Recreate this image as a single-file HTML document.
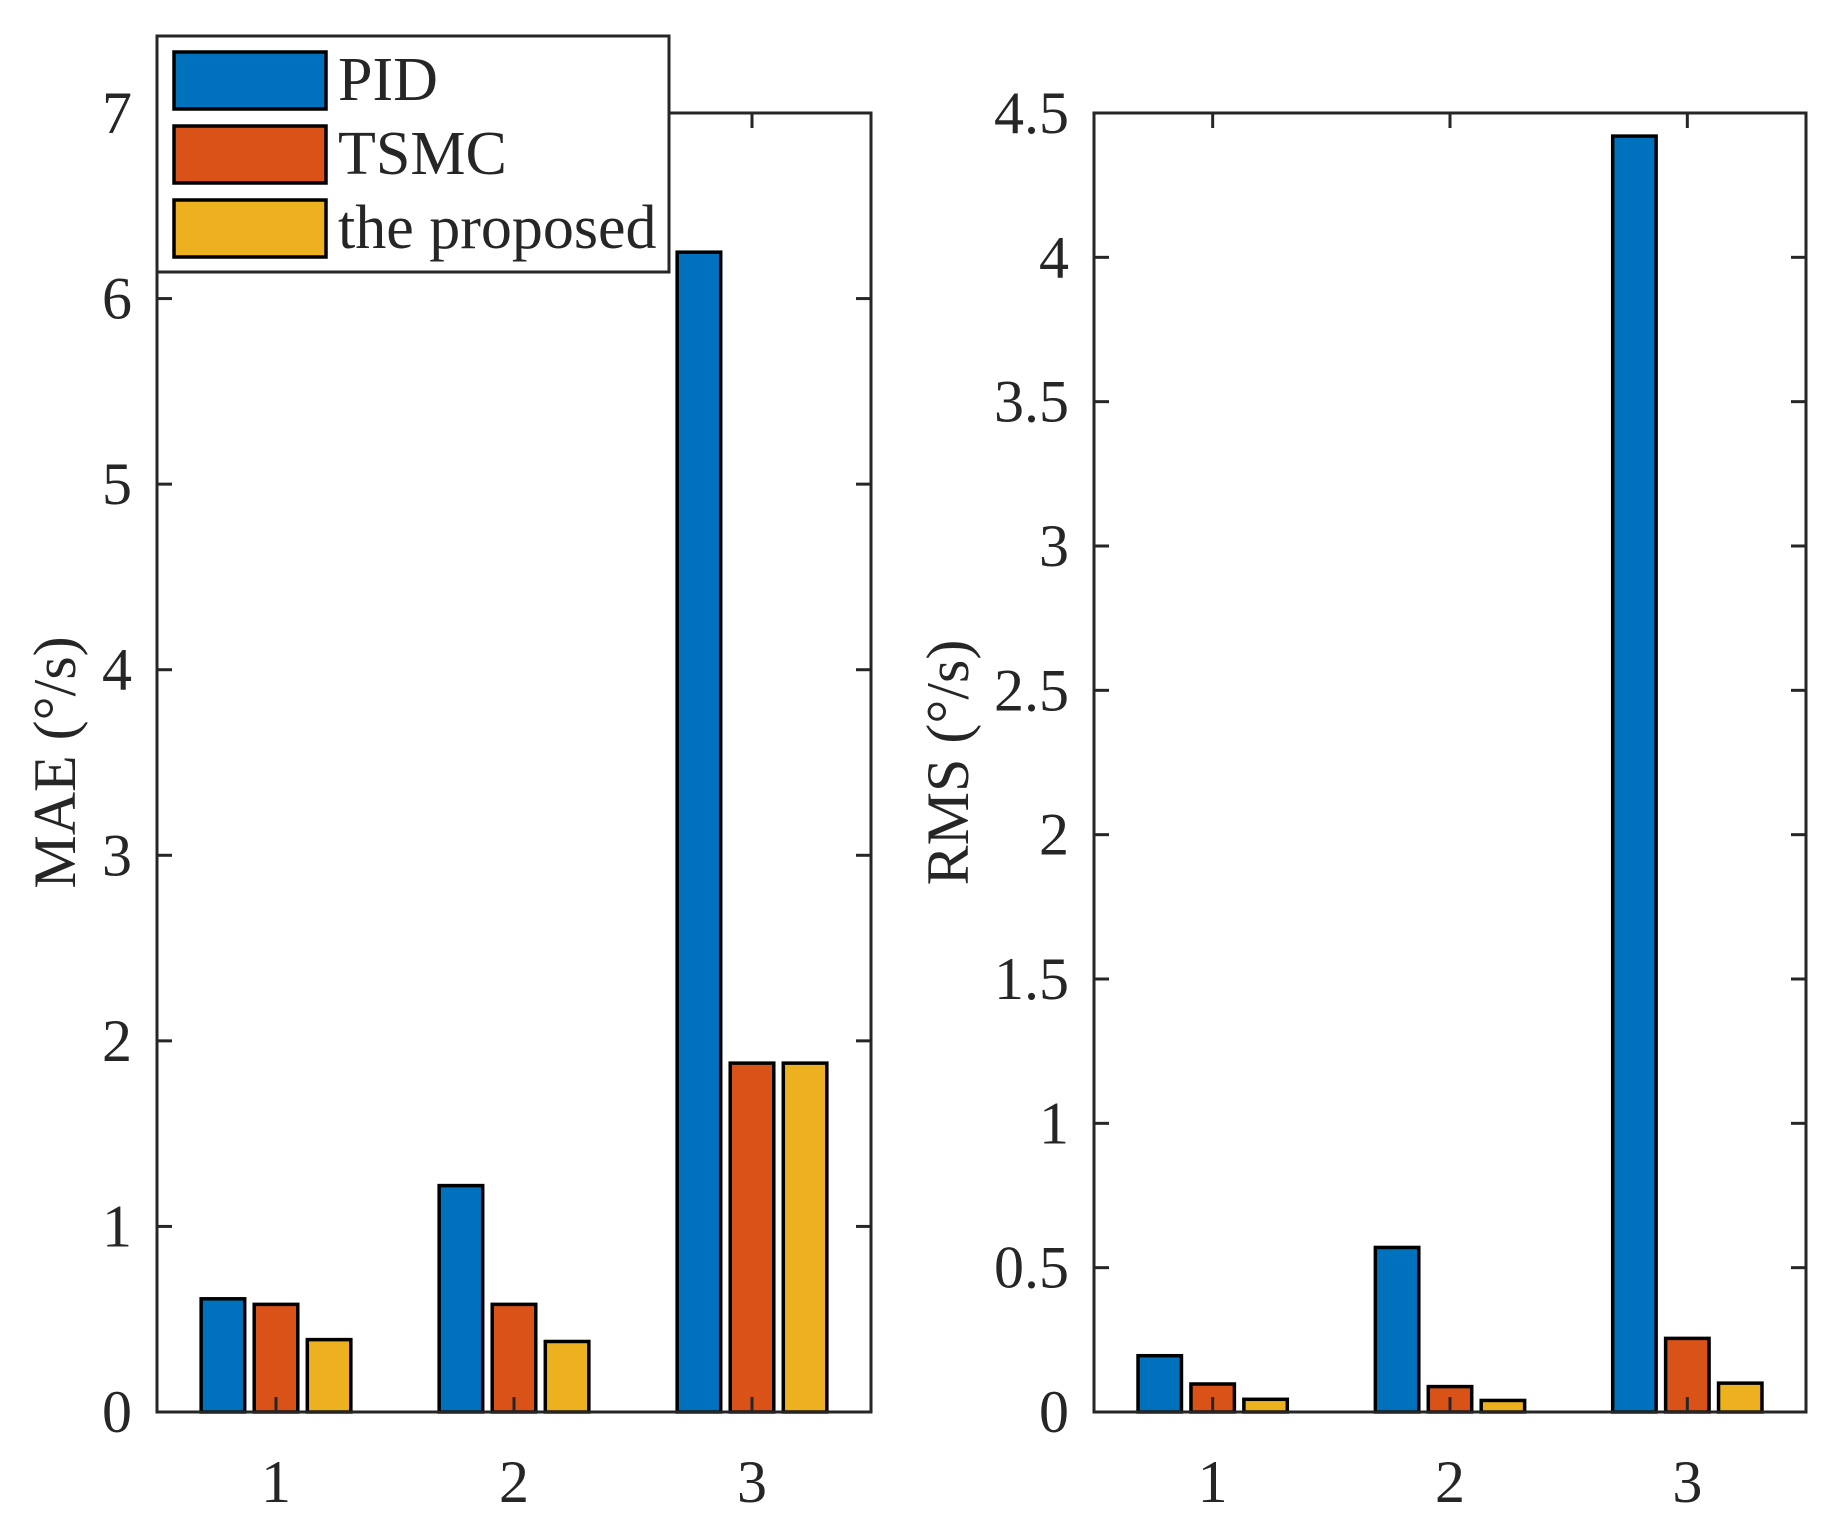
<!DOCTYPE html>
<html><head><meta charset="utf-8"><style>
html,body{margin:0;padding:0;background:#fff}
svg{display:block}
text{font-family:"Liberation Serif",serif;fill:#262626}
</style></head><body>
<svg id="chart" width="1843" height="1525" viewBox="0 0 1843 1525" xmlns="http://www.w3.org/2000/svg"></svg>
<script>
const categories = [1, 2, 3];
const seriesNames = ["PID", "TSMC", "the proposed"];
const maePID = [0.61, 1.22, 6.25];
const maeTSMC = [0.58, 0.58, 1.88];
const maeProposed = [0.39, 0.38, 1.88];
const rmsPID = [0.195, 0.57, 4.42];
const rmsTSMC = [0.097, 0.088, 0.255];
const rmsProposed = [0.044, 0.04, 0.1];
const maeTicks = [0, 1, 2, 3, 4, 5, 6, 7];
const maeTickLabels = ["0","1","2","3","4","5","6","7"];
const rmsTicks = [0, 0.5, 1, 1.5, 2, 2.5, 3, 3.5, 4, 4.5];
const rmsTickLabels = ["0","0.5","1","1.5","2","2.5","3","3.5","4","4.5"];

const colors = ["#0072BD", "#D95319", "#EDB120"];
const NS = "http://www.w3.org/2000/svg";
const svg = document.getElementById('chart');
function mk(tag, attrs, parent) {
  const e = document.createElementNS(NS, tag);
  for (const k in attrs) e.setAttribute(k, attrs[k]);
  (parent || svg).appendChild(e);
  return e;
}

function panel(p) {
  const g = mk('g', {});
  
  
  const x = v => p.x0 + (v - 0.5) / 3 * (p.x1 - p.x0);
  const y = v => p.y1 - v / p.ymax * (p.y1 - p.y0);
  const series = [p.s1, p.s2, p.s3];
  const offs = [-0.223, 0, 0.223];
  const bw = 0.183;
  series.forEach((arr, si) => {
    arr.forEach((v, ci) => {
      const c = categories[ci] + offs[si];
      const r = mk('rect', {x: x(c - bw/2), y: y(v), width: x(c + bw/2) - x(c - bw/2), height: y(0) - y(v),
        fill: colors[si], stroke: '#000', 'stroke-width': 3.5}, g);
      
      
    });
  });
  const box = mk('rect', {x: p.x0, y: p.y0, width: p.x1 - p.x0, height: p.y1 - p.y0, fill: 'none', stroke: '#262626', 'stroke-width': 3}, g);
  
  
  const tl = 15;
  p.ticks.forEach((t, i) => {
    mk('line', {x1: p.x0, x2: p.x0 + tl, y1: y(t), y2: y(t), stroke: '#262626', 'stroke-width': 3}, g);
    mk('line', {x1: p.x1, x2: p.x1 - tl, y1: y(t), y2: y(t), stroke: '#262626', 'stroke-width': 3}, g);
    const tx = mk('text', {x: p.x0 - 25, y: y(t) + 20, 'text-anchor': 'end', 'font-size': 60}, g);
    tx.textContent = p.tickLabels[i];
    
    
  });
  categories.forEach(c => {
    mk('line', {x1: x(c), x2: x(c), y1: p.y1, y2: p.y1 - tl, stroke: '#262626', 'stroke-width': 3}, g);
    mk('line', {x1: x(c), x2: x(c), y1: p.y0, y2: p.y0 + tl, stroke: '#262626', 'stroke-width': 3}, g);
    const tx = mk('text', {x: x(c), y: p.y1 + 90, 'text-anchor': 'middle', 'font-size': 60}, g);
    tx.textContent = String(c);
    
    
  });
  const yl = mk('text', {x: 0, y: 0, transform: `translate(${p.labelX},${(p.y0+p.y1)/2}) rotate(-90)`, 'text-anchor': 'middle', 'font-size': 60}, g);
  yl.textContent = p.label;
  
  
}

panel({name: 'mae-panel', x0: 157, x1: 871, y0: 113, y1: 1412, ymax: 7, s1: maePID, s2: maeTSMC, s3: maeProposed,
  ticks: maeTicks, tickLabels: maeTickLabels, label: 'MAE (°/s)', labelX: 75});
panel({name: 'rms-panel', x0: 1094, x1: 1806, y0: 113, y1: 1412, ymax: 4.5, s1: rmsPID, s2: rmsTSMC, s3: rmsProposed,
  ticks: rmsTicks, tickLabels: rmsTickLabels, label: 'RMS (°/s)', labelX: 968});

const lg = mk('g', {});


mk('rect', {x: 157, y: 36, width: 512, height: 236, fill: '#fff', stroke: '#262626', 'stroke-width': 3}, lg);
seriesNames.forEach((n, i) => {
  const top = 52 + i * 74;
  const sw = mk('rect', {x: 174, y: top, width: 152, height: 57, fill: colors[i], stroke: '#000', 'stroke-width': 3.5}, lg);
  
  
  const t = mk('text', {x: 338, y: top + 48, 'font-size': 62, fill: '#000'}, lg);
  t.textContent = n;
  
  
});
</script>
</body></html>
